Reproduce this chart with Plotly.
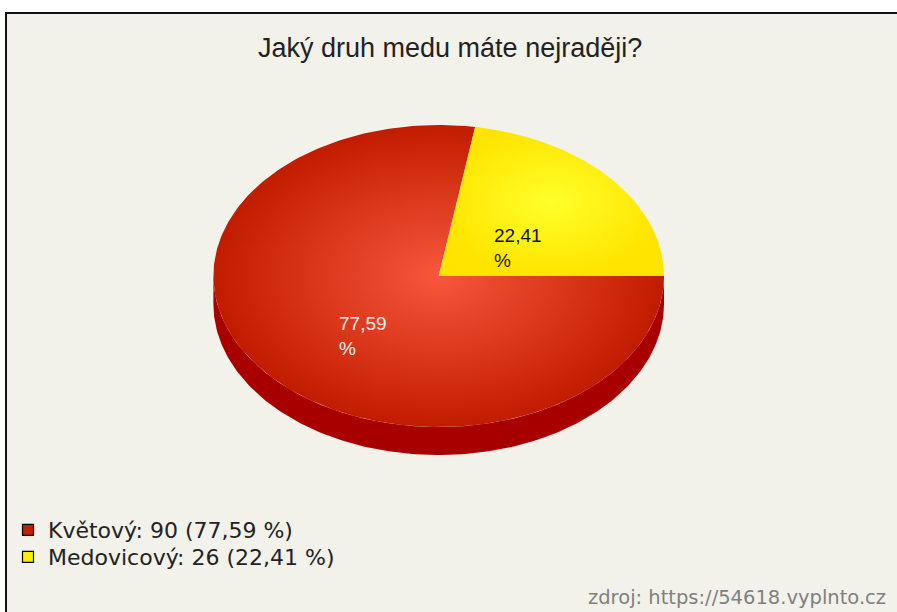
import numpy as np
import plotly.graph_objects as go

# ---- data ----
categories = ["Květový", "Medovicový"]
counts = [90, 26]
title_text = "Jaký druh medu máte nejraději?"
source_text = "zdroj: https://54618.vyplnto.cz"

# ---- styles ----
top_scales = [
    [[0, "#f7573b"], [1, "#c21c00"]],
    [[0, "#ffff2a"], [1, "#ffe400"]],
]
side_colors = ["#a80000", "#c8b400"]
legend_colors = ["#c41e00", "#ffee00"]
label_colors = ["#fff4ee", "#111111"]

W, H = 897, 612
CX, CY, RX, RY, DEPTH = 438.7, 276.0, 225.3, 151.0, 28.0
LEGEND_ROWS = [530, 557]

total = sum(counts)
pcts = [c / total * 100 for c in counts]


def fmt(p):
    return f"{p:.2f}".replace(".", ",")


fig = go.Figure()

# slices go clockwise starting at 3 o'clock
spans = []
start = 0.0
for p in pcts:
    end = start - p * 3.6
    spans.append((start, end))
    start = end

# 3D side walls (front half only: angles between -180 and 0)
for i, (a0, a1) in enumerate(spans):
    lo, hi = min(a0, a1), max(a0, a1)
    lo2, hi2 = max(lo, -180.0), min(hi, 0.0)
    if hi2 <= lo2:
        continue
    t = np.radians(np.linspace(lo2, hi2, 200))
    xs = CX + RX * np.cos(t)
    ys = CY - RY * np.sin(t)
    px = np.concatenate([xs, xs[::-1]])
    py = np.concatenate([ys, ys[::-1] + DEPTH])
    fig.add_trace(go.Scatter(x=px, y=py, mode="lines", fill="toself",
                             fillcolor=side_colors[i], line=dict(width=0),
                             hoverinfo="skip", showlegend=False))

# top faces
for i, (a0, a1) in enumerate(spans):
    t = np.radians(np.linspace(a0, a1, 300))
    xs = np.concatenate([[CX], CX + RX * np.cos(t), [CX]])
    ys = np.concatenate([[CY], CY - RY * np.sin(t), [CY]])
    fig.add_trace(go.Scatter(x=xs, y=ys, mode="lines", fill="toself",
                             fillgradient=dict(type="radial", colorscale=top_scales[i]),
                             line=dict(width=0), hoverinfo="skip", showlegend=False))

# slice labels
for i, (a0, a1) in enumerate(spans):
    m = np.radians((a0 + a1) / 2)
    lx = CX + 0.45 * RX * np.cos(m)
    ly = CY - 0.45 * RY * np.sin(m)
    fig.add_annotation(x=lx + 2, y=ly - 9, text=f"{fmt(pcts[i])}<br>%", showarrow=False,
                       xanchor="center", yanchor="top", align="left",
                       font=dict(family="Liberation Sans", size=19, color=label_colors[i]))

# legend entries, one legend box per row
legend_layout = {}
for i, cat in enumerate(categories):
    lname = "legend" if i == 0 else f"legend{i + 1}"
    fig.add_trace(go.Scatter(x=[None], y=[None], mode="markers",
                             name=f"{cat}: {counts[i]} ({fmt(pcts[i])} %)",
                             legend=lname,
                             marker=dict(symbol="square", size=11, color=legend_colors[i],
                                         line=dict(color="#000000", width=1.2))))
    legend_layout[lname] = dict(
        x=8 / W, y=1 - LEGEND_ROWS[i] / H, xanchor="left", yanchor="middle",
        bgcolor="rgba(0,0,0,0)", font=dict(family="DejaVu Sans", size=22, color="#222222"),
        itemclick=False, itemdoubleclick=False)

# title and source
fig.add_annotation(x=450, y=48, text=title_text, showarrow=False, xanchor="center",
                   yanchor="middle", font=dict(family="Liberation Sans", size=27, color="#222222"))
fig.add_annotation(x=888, y=597, text=source_text, showarrow=False, xanchor="right",
                   yanchor="middle", font=dict(family="DejaVu Sans", size=19.5, color="#808080"))

fig.update_layout(
    width=W, height=H, margin=dict(l=0, r=0, t=0, b=0),
    paper_bgcolor="#ffffff", plot_bgcolor="#ffffff",
    xaxis=dict(range=[0, W], visible=False, fixedrange=True),
    yaxis=dict(range=[H, 0], visible=False, fixedrange=True),
    showlegend=True,
    shapes=[dict(type="rect", xref="paper", yref="paper", x0=6 / W, y0=1 - 13 / H,
                 x1=1.05, y1=-0.05,
                 line=dict(color="#111111", width=2), fillcolor="#f3f2ea", layer="below")],
    **legend_layout,
)

fig.write_html("out.html")
